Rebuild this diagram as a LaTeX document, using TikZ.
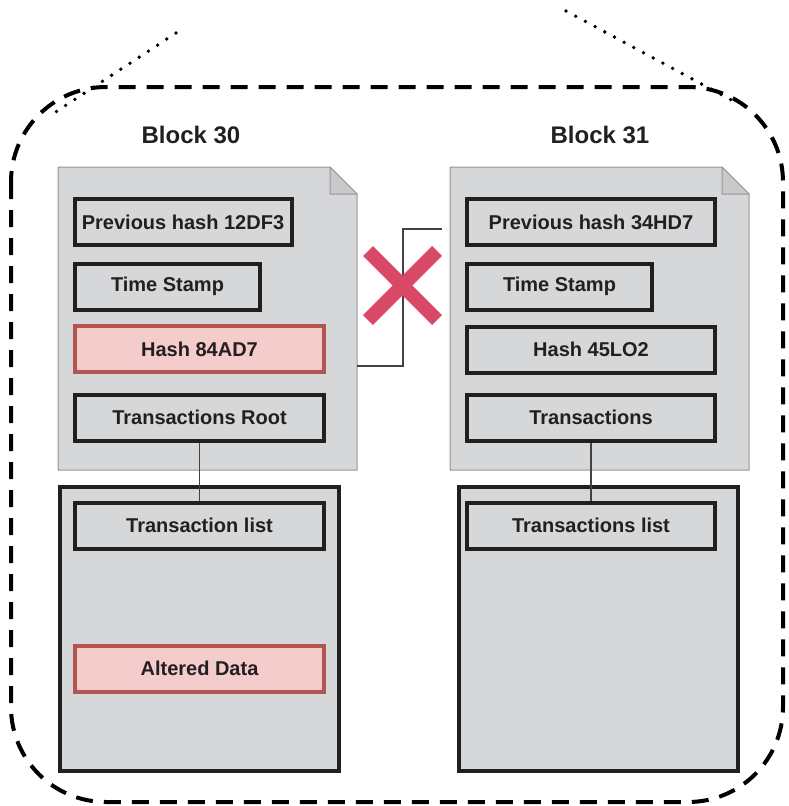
\documentclass[tikz,border=0pt]{standalone}
\usepackage{fontspec}
\setmainfont{Liberation Sans}
\usetikzlibrary{calc}
\definecolor{boxgray}{RGB}{214,215,217}
\definecolor{docline}{RGB}{150,150,152}
\definecolor{foldgray}{RGB}{200,201,203}
\definecolor{pinkfill}{RGB}{245,204,204}
\definecolor{pinkline}{RGB}{178,84,80}
\definecolor{crossred}{RGB}{218,72,104}
\definecolor{txt}{RGB}{35,31,32}
\tikzset{
  field/.style={draw=txt, line width=4pt, fill=boxgray, inner sep=0pt, minimum height=46pt,
    text=txt, font=\fontsize{20}{22}\selectfont\bfseries},
  altfield/.style={field, draw=pinkline, fill=pinkfill},
  listbox/.style={draw=txt, line width=4pt, fill=boxgray, inner sep=0pt, minimum width=279pt, minimum height=284pt},
  docshape/.style={fill=boxgray, draw=docline, line width=1pt},
  foldshape/.style={fill=foldgray, draw=docline, line width=1pt, line join=round},
  title/.style={text=txt, font=\fontsize{24}{28}\selectfont\bfseries},
  link/.style={draw=txt!85, line width=1.5pt},
  bigdash/.style={line width=4pt, dash pattern=on 17pt off 11pt},
  dots/.style={line width=3.8pt, dash pattern=on 0pt off 11pt, line cap=round},
}
\begin{document}
\begin{tikzpicture}[x=1pt,y=-1pt]
\useasboundingbox (0,0) rectangle (789,806);
% outer dashed frame
\draw[bigdash, rounded corners=95pt] (11,87) rectangle (783,802);
\draw[dots] (176,33) -- (48,117);
\draw[dots] (566,11) -- (735,102);
% titles
\node[title] (t30) at (191,135) {Block 30};
\node[title] (t31) at (600,135) {Block 31};
% documents
\draw[docshape] (58,167) -- (330,167) -- (357,194) -- (357,470) -- (58,470) -- cycle;
\draw[foldshape] (330,167) -- (330,194) -- (357,194) -- cycle;
\draw[docshape] (450,167) -- (722,167) -- (749,194) -- (749,470) -- (450,470) -- cycle;
\draw[foldshape] (722,167) -- (722,194) -- (749,194) -- cycle;
% lower boxes
\node[listbox] (list30) at (199.5,629) {};
\node[listbox] (list31) at (598.5,629) {};
% fields block 30
\node[field, minimum width=217pt] (prev30) at (183,222) {Previous hash 12DF3};
\node[field, minimum width=185pt] (ts30) at (167.5,286.5) {Time Stamp};
\node[altfield, minimum width=249pt] (hash30) at (199.5,349) {Hash 84AD7};
\node[field, minimum width=249pt] (root30) at (199.5,417.5) {Transactions Root};
\node[field, minimum width=249pt] (tl30) at (199.5,525.5) {Transaction list};
\node[altfield, minimum width=249pt] (alt30) at (199.5,668.5) {Altered Data};
% fields block 31
\node[field, minimum width=248pt] (prev31) at (591,222) {Previous hash 34HD7};
\node[field, minimum width=185pt] (ts31) at (559.5,286.5) {Time Stamp};
\node[field, minimum width=248pt] (hash31) at (591,349.5) {Hash 45LO2};
\node[field, minimum width=248pt] (tx31) at (591,417.5) {Transactions};
\node[field, minimum width=248pt] (tl31) at (591,525.5) {Transactions list};
% connectors
\draw[link] (root30.south) -- (tl30.north);
\draw[link] (tx31.south) -- (tl31.north);
\coordinate (hs) at (357,366);
\coordinate (he) at (442,229);
\draw[link] (hs) -- (403,366) |- (he);
% cross
\draw[crossred, line width=14pt] (368,251) -- (437,320);
\draw[crossred, line width=14pt] (437,251) -- (368,320);
\end{tikzpicture}
\end{document}
